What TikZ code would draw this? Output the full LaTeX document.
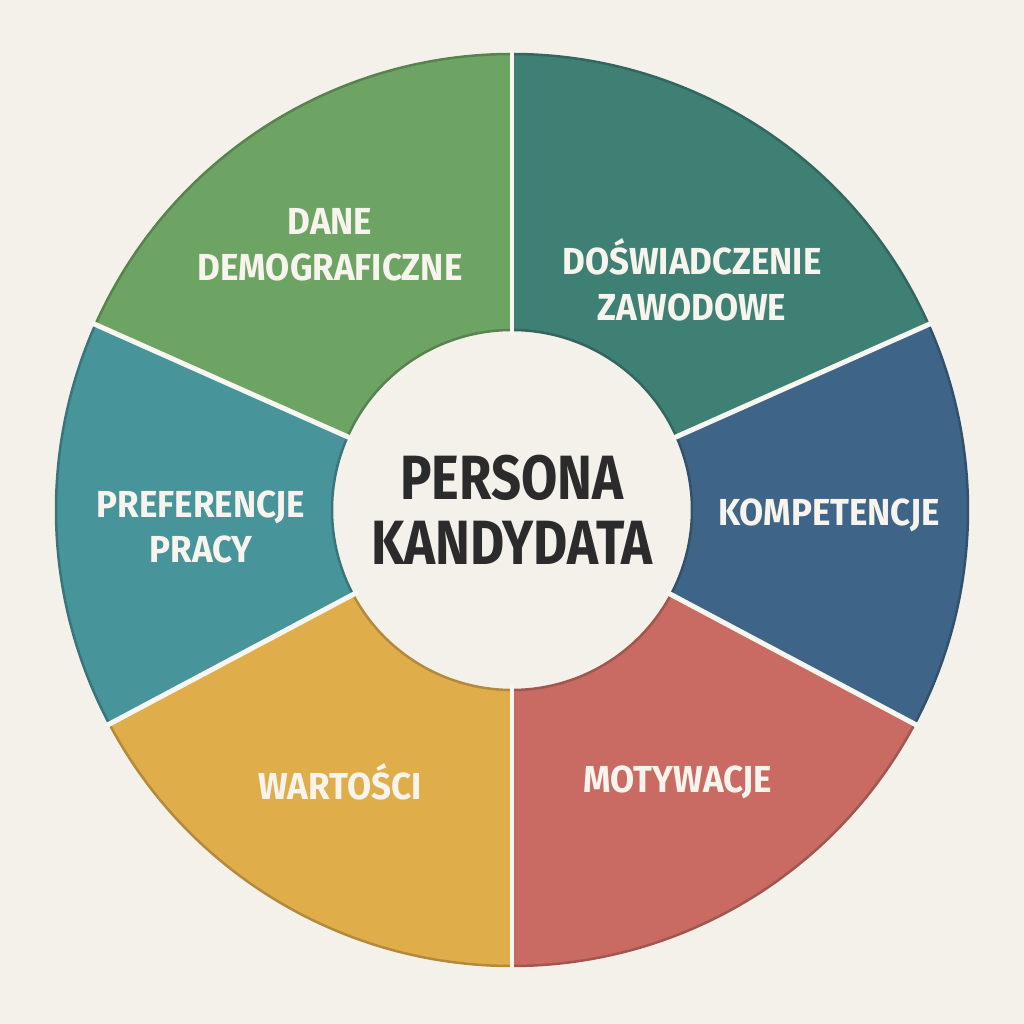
\documentclass[tikz,border=0pt]{standalone}
\usepackage{fontspec}
\setmainfont[FakeStretch=0.93]{Fira Sans}
\newfontfamily\centerfont[FakeStretch=0.84]{Fira Sans}
\usetikzlibrary{calc}

\definecolor{paper}{HTML}{F4F1EB}
\definecolor{gapcol}{HTML}{F8F6F1}
\definecolor{inkcol}{HTML}{2B2B2B}
\definecolor{labcol}{HTML}{F7F4EE}
\definecolor{colDane}{HTML}{6DA463}
\definecolor{colDosw}{HTML}{3F8075}
\definecolor{colKomp}{HTML}{3E6588}
\definecolor{colMoty}{HTML}{C96B62}
\definecolor{colWart}{HTML}{E0AD4B}
\definecolor{colPref}{HTML}{47949A}

\tikzset{
  seglabel/.style={text=labcol, align=center, font=\bfseries\fontsize{10.7}{13}\selectfont},
}

\begin{document}
\begin{tikzpicture}[x=0.1mm,y=0.1mm]
		\coordinate (Origin) at (0,0);
		\fill[paper] (-512,-514) rectangle (512,510);% background
		\useasboundingbox (-512,-514) rectangle (512,510);

		\foreach \a/\b/\c in {90/24/colDosw, 24/-28/colKomp, -28/-90/colMoty,
		  -90/-152/colWart, 208/156/colPref, 156/90/colDane}{% one ring segment each
			\filldraw[fill=\c, draw=\c!80!black, line width=0.25mm]
			  (\a:456) arc[start angle=\a, end angle=\b, radius=456]
			  -- (\b:180) arc[start angle=\b, end angle=\a, radius=180] -- cycle;
		}
		\foreach \a in {90,24,-28,-90,-152,156}{% light gaps between segments
			\draw[gapcol, line width=0.5mm] (\a:175) -- (\a:459);
		}

		\node[text=inkcol, align=center, font=\centerfont\bfseries\fontsize{17.8}{18.5}\selectfont] (Center) at (Origin) {PERSONA\\KANDYDATA};

		\node[seglabel] (Dane) at (-182,265) {DANE\\DEMOGRAFICZNE};
		\node[seglabel] (Dosw) at (180,230) {DOŚWIADCZENIE\\ZAWODOWE};
		\node[seglabel] (Komp) at (317,-5) {KOMPETENCJE};
		\node[seglabel] (Pref) at (-311,-17) {PREFERENCJE\\PRACY};
		\node[seglabel] (Wart) at (-172,-272) {WARTOŚCI};
		\node[seglabel] (Moty) at (166,-272) {MOTYWACJE};
	  \end{tikzpicture}
\end{document}
